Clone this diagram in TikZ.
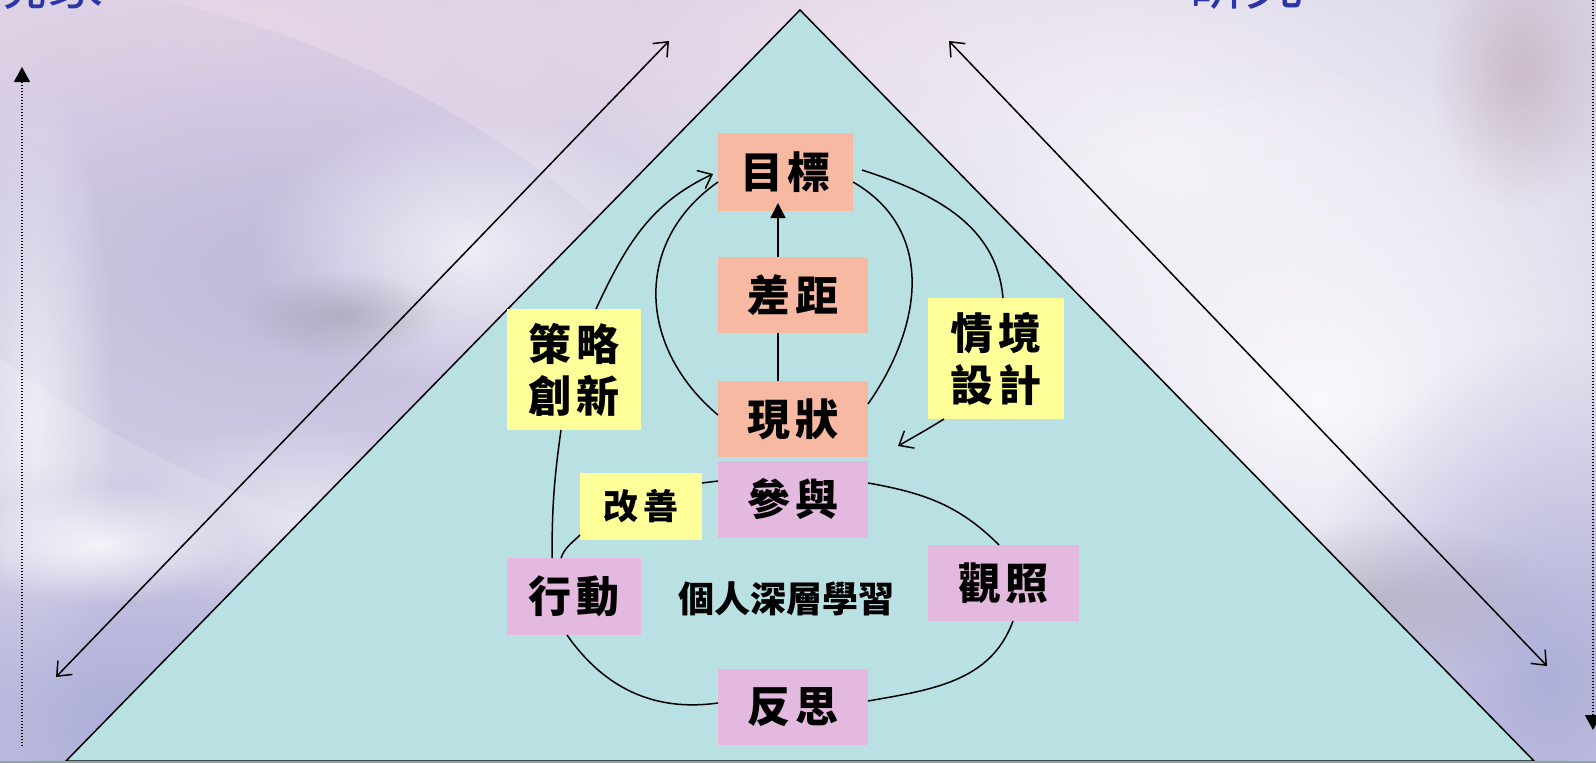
\documentclass[tikz,border=0pt]{standalone}
\usepackage{fontspec}
\newfontfamily\cjk{Noto Sans CJK TC}
\usetikzlibrary{arrows.meta,fadings}
\definecolor{bgbase}{HTML}{D6D0E6}
\definecolor{tri}{HTML}{B9E0E3}
\definecolor{salmon}{HTML}{F8B9A3}
\definecolor{lemon}{HTML}{FFFF99}
\definecolor{orchid}{HTML}{E3B9DF}
\definecolor{ink}{HTML}{2B35A8}
\definecolor{pinkwash}{HTML}{E8D6E6}
\definecolor{lavdark}{HTML}{BEB8DA}
\definecolor{lavblue}{HTML}{AAACD8}
\definecolor{cloudgray}{HTML}{9E9CAA}
\definecolor{browngray}{HTML}{BDA8B0}
\definecolor{bottomline}{HTML}{8FA3A6}
\tikzfading[name=softblob, inner color=transparent!0, outer color=transparent!100]
\newcommand{\gp}{\kern5pt\relax}
\begin{document}
\begin{tikzpicture}[x=1pt,y=1pt,
  box/.style={inner sep=0pt, outer sep=0pt, align=center,
    font=\cjk\bfseries\fontsize{43}{52}\selectfont},
  goal/.style={box, fill=salmon},
  idea/.style={box, fill=lemon},
  loopbox/.style={box, fill=orchid},
  conn/.style={line width=1.5pt, draw=black},
  barb/.style={-{Straight Barb[length=12pt,width=20pt,line width=1.5pt]}},
  dbarb/.style={{Straight Barb[length=12pt,width=20pt,line width=1.5pt]}-{Straight Barb[length=12pt,width=20pt,line width=1.5pt]}},
  dotarrow/.style={line width=1.6pt, dash pattern=on 1.4pt off 1.6pt, -{Triangle[length=15pt,width=16pt]}},
  blob/.style={path fading=softblob},
]
\useasboundingbox (0,0) rectangle (1596,-763);
% background
\fill[bgbase] (0,0) rectangle (1596,-763);
\fill[pinkwash, blob, opacity=0.9] (220,-40) ellipse (520 and 200);
\fill[pinkwash, blob, opacity=0.8] (820,-30) ellipse (560 and 150);
\fill[lavdark, blob, opacity=0.9, rotate around={-25:(280,-270)}] (280,-270) ellipse (480 and 220);
\fill[white, blob, opacity=0.6] (35,-420) ellipse (80 and 360);
\fill[lavblue, blob, opacity=0.95] (140,-720) ellipse (460 and 260);
\fill[white, blob, opacity=0.8] (100,-545) ellipse (140 and 60);
\fill[white, blob, opacity=0.7] (470,-250) ellipse (220 and 140);
\fill[white, blob, opacity=0.5] (300,-520) ellipse (180 and 100);
\fill[cloudgray, blob, opacity=0.6] (340,-315) ellipse (100 and 44);
\fill[white, blob, opacity=0.7] (1150,-150) ellipse (560 and 320);
\fill[white, blob, opacity=0.85] (1320,-400) ellipse (440 and 340);
\fill[lavblue, blob, opacity=0.9] (1550,-680) ellipse (260 and 340);
\fill[cloudgray, blob, opacity=0.5] (1380,-600) ellipse (180 and 80);
\fill[browngray, blob, opacity=0.6] (1520,-70) ellipse (90 and 140);
% pyramid
\coordinate (apex) at (800,-10);
\coordinate (baseL) at (66,-761);
\coordinate (baseR) at (1534,-761);
\filldraw[fill=tri, draw=black, line width=1.5pt] (apex) -- (baseL) -- (baseR) -- cycle;
\draw[bottomline, line width=1.6pt] (0,-762) -- (1596,-762);
% side arrows
\coordinate (dl1) at (56,-677);
\coordinate (dl2) at (669,-41);
\coordinate (dr1) at (949,-41);
\coordinate (dr2) at (1547,-666);
\draw[conn, dbarb] (dl1) -- (dl2);
\draw[conn, dbarb] (dr1) -- (dr2);
\coordinate (vl1) at (22,-746);
\coordinate (vl2) at (22,-67);
\coordinate (vr1) at (1593,0);
\coordinate (vr2) at (1593,-730);
\draw[dotarrow] (vl1) -- (vl2);
\draw[dotarrow] (vr1) -- (vr2);
% corner titles
\node[font=\cjk\fontsize{58}{60}\selectfont, text=ink, anchor=base, inner sep=0pt] (xianxiang) at (47,-4) {現象};
\node[font=\cjk\fontsize{58}{60}\selectfont, text=ink, anchor=base, inner sep=0pt] (yanjiu) at (1245,-4) {研究};
% boxes
\node[goal, minimum width=135pt, minimum height=78pt] (mubiao) at (785.5,-172) {目\gp 標};
\node[goal, minimum width=150pt, minimum height=76pt] (chaju) at (793,-295) {差\gp 距};
\node[goal, minimum width=150pt, minimum height=76pt] (xianzhuang) at (793,-419) {現\gp 狀};
\node[idea, minimum width=134pt, minimum height=121pt] (celue) at (574,-369.5) {策\gp 略\\創\gp 新};
\node[idea, minimum width=136pt, minimum height=121pt] (qingjing) at (996,-358.5) {情\gp 境\\設\gp 計};
\node[loopbox, minimum width=150pt, minimum height=77pt] (canyu) at (793,-499.5) {參\gp 與};
\node[idea, minimum width=122pt, minimum height=67pt, font=\cjk\bfseries\fontsize{35}{40}\selectfont] (gaishan) at (641,-506.5) {改\gp 善};
\node[loopbox, minimum width=134pt, minimum height=77pt] (xingdong) at (574,-596.5) {行\gp 動};
\node[loopbox, minimum width=151pt, minimum height=76pt] (guanzhao) at (1003.5,-583) {觀\gp 照};
\node[loopbox, minimum width=150pt, minimum height=76pt] (fansi) at (793,-707) {反\gp 思};
\node[inner sep=0pt, font=\cjk\bfseries\fontsize{36}{40}\selectfont] (core) at (786,-599) {個人深層學習};
% upper connectors
\draw[conn, barb] ([xshift=22pt]celue.north) to[out=65, in=205] ([xshift=-5pt,yshift=-2pt]mubiao.west);
\draw[conn] ([yshift=-10pt]mubiao.west) to[out=215, in=140, looseness=1.15] ([yshift=4pt]xianzhuang.west);
\draw[conn] ([yshift=-10pt]mubiao.east) to[out=-30, in=55, looseness=1.1] ([yshift=15pt]xianzhuang.east);
\draw[conn] ([xshift=9pt,yshift=2pt]mubiao.east) to[out=-18, in=95] ([xshift=7pt]qingjing.north);
\draw[conn, barb] ([xshift=-52pt]qingjing.south) to[out=212, in=30] ([xshift=-98pt,yshift=-27pt]qingjing.south);
\draw[conn] ([xshift=-15pt]xianzhuang.north) -- ([xshift=-15pt]chaju.south);
\draw[conn, -{Triangle[length=15pt,width=15pt]}] ([xshift=-15pt]chaju.north) -- ([xshift=-7.5pt,yshift=8pt]mubiao.south);
\draw[conn] ([xshift=-22pt]xingdong.north) to[bend left=4] ([xshift=-13pt]celue.south);
% lower loop
\draw[conn] ([yshift=23.5pt]gaishan.east) -- ([yshift=18.5pt]canyu.west);
\draw[conn] ([yshift=16.5pt]canyu.east) to[out=-10, in=135] ([xshift=-4.5pt]guanzhao.north);
\draw[conn] ([xshift=9.5pt]guanzhao.south) to[out=-110, in=10] ([yshift=6pt]fansi.east);
\draw[conn] ([yshift=4pt]fansi.west) to[out=188, in=-55] ([xshift=-7pt]xingdong.south);
\draw[conn] ([xshift=-13pt]xingdong.north) to[out=70, in=225] ([yshift=5pt]gaishan.south west);
\end{tikzpicture}
\end{document}
